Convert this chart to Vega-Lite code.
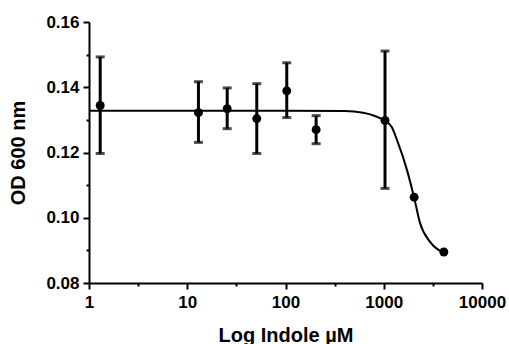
{
  "$schema": "https://vega.github.io/schema/vega-lite/v6.json",
  "width": 393,
  "height": 261,
  "autosize": {"type": "none"},
  "padding": {"left": 89, "top": 22, "right": 27, "bottom": 61},
  "background": "white",
  "config": {
    "view": {"stroke": null},
    "font": "Liberation Sans",
    "axis": {
      "domainColor": "black",
      "domainWidth": 2,
      "tickColor": "black",
      "tickWidth": 2,
      "tickSize": 6,
      "labelColor": "black",
      "labelFont": "Liberation Sans",
      "labelFontWeight": "bold",
      "labelFontSize": 17,
      "titleFont": "Liberation Sans",
      "titleFontWeight": "bold",
      "titleFontSize": 20,
      "titleColor": "black",
      "grid": false,
      "labelOverlap": false,
      "labelBound": false,
      "labelFlush": false
    }
  },
  "resolve": {"axis": {"x": "independent", "y": "independent"}},
  "datasets": {
    "points": [
      {"conc": 1.3, "od": 0.1344, "lo": 0.1197, "hi": 0.1493},
      {"conc": 13, "od": 0.1322, "lo": 0.1231, "hi": 0.1417},
      {"conc": 25.5, "od": 0.1334, "lo": 0.1273, "hi": 0.1398},
      {"conc": 51, "od": 0.1304, "lo": 0.1197, "hi": 0.1411},
      {"conc": 103, "od": 0.1389, "lo": 0.1307, "hi": 0.1475},
      {"conc": 205, "od": 0.127, "lo": 0.1227, "hi": 0.1313},
      {"conc": 1030, "od": 0.1298, "lo": 0.109, "hi": 0.1511},
      {"conc": 2040, "od": 0.1063},
      {"conc": 4090, "od": 0.0895}
    ],
    "curve": [
      {"conc": 1, "fit": 0.1328},
      {"conc": 100, "fit": 0.1328},
      {"conc": 400, "fit": 0.1327},
      {"conc": 616, "fit": 0.1322},
      {"conc": 813, "fit": 0.1312},
      {"conc": 1024, "fit": 0.1297},
      {"conc": 1205, "fit": 0.1278},
      {"conc": 1365, "fit": 0.1238},
      {"conc": 1725, "fit": 0.1146},
      {"conc": 2040, "fit": 0.1061},
      {"conc": 2340, "fit": 0.0984},
      {"conc": 2960, "fit": 0.0926},
      {"conc": 4090, "fit": 0.0892}
    ]
  },
  "layer": [
    {
      "data": {"name": "curve"},
      "mark": {"type": "line", "color": "black", "strokeWidth": 2, "interpolate": "monotone"},
      "encoding": {
        "x": {
          "field": "conc",
          "type": "quantitative",
          "scale": {"type": "log", "domain": [1, 10000], "nice": false},
          "axis": {
            "title": "Log Indole µM",
            "values": [1, 10, 100, 1000, 10000],
            "format": "d",
            "labelPadding": 5,
            "titlePadding": 15
          }
        },
        "y": {
          "field": "fit",
          "type": "quantitative",
          "scale": {"domain": [0.08, 0.16], "nice": false, "zero": false},
          "axis": {
            "title": "OD 600 nm",
            "values": [0.08, 0.1, 0.12, 0.14, 0.16],
            "format": ".2f",
            "labelPadding": 4,
            "titlePadding": 17
          }
        }
      }
    },
    {
      "data": {"name": "points"},
      "transform": [{"filter": "isValid(datum.lo)"}],
      "mark": {"type": "errorbar", "color": "black", "ticks": {"size": 9, "thickness": 3, "color": "black"}, "rule": {"strokeWidth": 3, "color": "black"}},
      "encoding": {
        "x": {"field": "conc", "type": "quantitative", "axis": null},
        "y": {"field": "lo", "type": "quantitative", "axis": null},
        "y2": {"field": "hi"}
      }
    },
    {
      "data": {"name": "points"},
      "mark": {"type": "point", "filled": true, "color": "black", "opacity": 1, "size": 80},
      "encoding": {
        "x": {
          "field": "conc",
          "type": "quantitative",
          "axis": {
            "orient": "bottom",
            "title": null,
            "labels": false,
            "domain": false,
            "values": [3.1623, 31.623, 316.23, 3162.3],
            "tickSize": 3
          }
        },
        "y": {
          "field": "od",
          "type": "quantitative",
          "axis": {
            "orient": "left",
            "title": null,
            "labels": false,
            "domain": false,
            "values": [0.09, 0.11, 0.13, 0.15],
            "tickSize": 3
          }
        }
      }
    }
  ]
}
